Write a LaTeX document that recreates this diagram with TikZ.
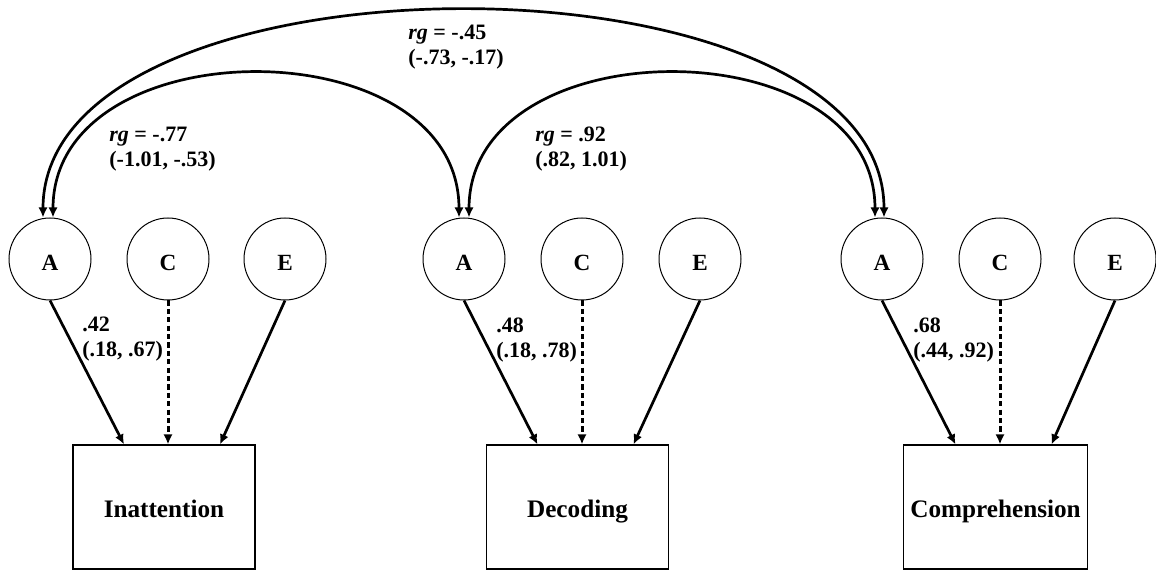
\documentclass[tikz,border=0pt]{standalone}
\usepackage{fontspec}
\setmainfont{Liberation Serif}
\usetikzlibrary{arrows.meta}

\begin{document}
\begin{tikzpicture}[x=0.5pt, y=0.5pt,
  latent/.style={circle, draw, line width=0.5pt, minimum size=41pt, inner sep=0pt, text height=11.7pt, text depth=0pt, font=\fontsize{11.6}{13}\selectfont\bfseries},
  pheno/.style={rectangle, draw, line width=0.6pt, minimum width=91pt, minimum height=62pt, text height=12pt, text depth=1pt, font=\fontsize{12.6}{14}\selectfont\bfseries},
  effect/.style={line width=1.35pt, -{Latex[length=5pt,width=4.6pt]}},
  shared/.style={effect, line width=1.5pt, dash pattern=on 2.6pt off 1.6pt},
  corr/.style={line width=1.35pt, {Latex[length=5pt,width=4.6pt]}-{Latex[length=5pt,width=4.6pt]}},
  lab/.style={anchor=north west, inner sep=0pt, align=left, font=\fontsize{11}{12.5}\selectfont\bfseries}]
\useasboundingbox (0,0) rectangle (1156,571);
% latent factors
\node[latent] (a1) at (50,312) {A};
\node[latent] (c1) at (168,312) {C};
\node[latent] (e1) at (285,312) {E};
\node[latent] (a2) at (464,312) {A};
\node[latent] (c2) at (582,312) {C};
\node[latent] (e2) at (700,312) {E};
\node[latent] (a3) at (882,312) {A};
\node[latent] (c3) at (1000,312) {C};
\node[latent] (e3) at (1115,312) {E};
% phenotypes
\node[pheno] (ph1) at (164,64) {Inattention};
\node[pheno] (ph2) at (577.5,64) {Decoding};
\node[pheno] (ph3) at (995.5,64) {Comprehension};
% paths
\draw[effect](a1.south) -- ([xshift=-20pt]ph1.north);
\draw[shared](c1.south) -- (c1.south |- ph1.north);
\draw[effect](e1.south) -- ([xshift=28pt]ph1.north);
\draw[effect](a2.south) -- ([xshift=-20pt]ph2.north);
\draw[shared](c2.south) -- (c2.south |- ph2.north);
\draw[effect](e2.south) -- ([xshift=28pt]ph2.north);
\draw[effect](a3.south) -- ([xshift=-20pt]ph3.north);
\draw[shared](c3.south) -- (c3.south |- ph3.north);
\draw[effect](e3.south) -- ([xshift=28pt]ph3.north);
\node[lab] (l1) at (82,254) {.42\\(.18, .67)};
\node[lab] (l2) at (496,254) {.48\\(.18, .78)};
\node[lab] (l3) at (913,254) {.68\\(.44, .92)};
% genetic correlations
\draw[corr]([xshift=-3.5pt]a1.north) to[out=90, in=90, looseness=0.84] ([xshift=1pt]a3.north);
\draw[corr]([xshift=1.5pt]a1.north) to[out=90, in=90, looseness=1.21] ([xshift=-2.5pt]a2.north);
\draw[corr]([xshift=2.5pt]a2.north) to[out=90, in=90, looseness=1.21] ([xshift=-3.5pt]a3.north);
\node[lab] (r1) at (109,444) {\textit{rg} = -.77\\(-1.01, -.53)};
\node[lab] (r2) at (535,444) {\textit{rg} = .92\\(.82, 1.01)};
\node[lab] (r3) at (408,546) {\textit{rg} = -.45\\(-.73, -.17)};
\end{tikzpicture}
\end{document}
